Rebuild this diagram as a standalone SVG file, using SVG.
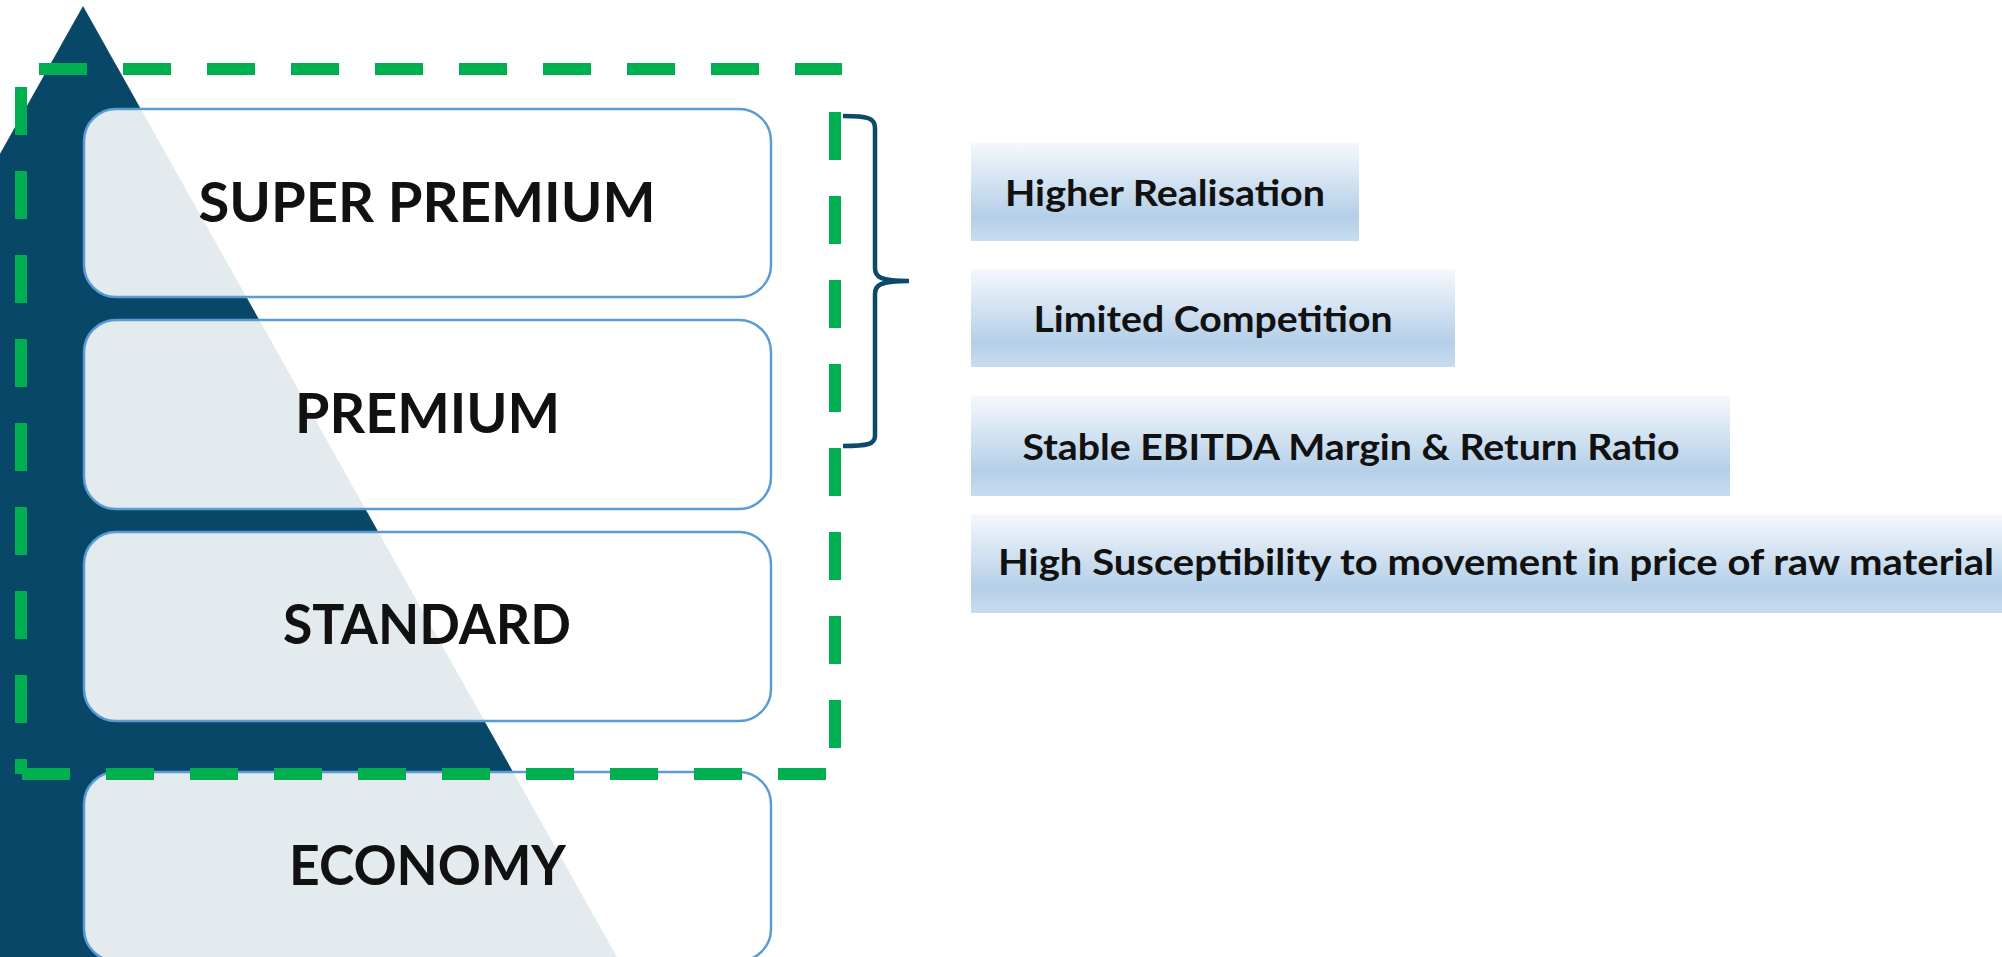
<svg xmlns="http://www.w3.org/2000/svg" width="2002" height="957" viewBox="0 0 2002 957">
<style>
.tier{fill:#ffffff;fill-opacity:0.89;stroke:#5b9bd5;stroke-width:2.5}
.tt{font-family:"Lato","Open Sans","Liberation Sans",sans-serif;font-weight:700;font-size:56px;fill:#111111}
.lb{fill:url(#g)}
.lt{font-family:"Lato","Open Sans","Liberation Sans",sans-serif;font-weight:700;font-size:37px;fill:#111111}
.gd{stroke:#00b050;stroke-width:12;stroke-dasharray:48 36;fill:none}
</style>
<defs>
<linearGradient id="g" x1="0" y1="0" x2="0" y2="1">
<stop offset="0" stop-color="#f5f8fc"/>
<stop offset="0.75" stop-color="#b4cfe8"/>
<stop offset="1" stop-color="#c8dcef"/>
</linearGradient>
</defs>
<rect width="2002" height="957" fill="#ffffff"/>
<polygon id="triangle" points="83,6 617,957 -451,957" fill="#084767"/>
<g id="tier-super-premium">
<rect class="tier" x="84" y="109" width="687" height="188" rx="32"/>
<text class="tt" x="427" y="222" text-anchor="middle" textLength="457" lengthAdjust="spacingAndGlyphs">SUPER PREMIUM</text>
</g>
<g id="tier-premium">
<rect class="tier" x="84" y="320" width="687" height="189" rx="32"/>
<text class="tt" x="427.5" y="433" text-anchor="middle" textLength="265" lengthAdjust="spacingAndGlyphs">PREMIUM</text>
</g>
<g id="tier-standard">
<rect class="tier" x="84" y="532" width="687" height="189" rx="32"/>
<text class="tt" x="427" y="644" text-anchor="middle" textLength="288" lengthAdjust="spacingAndGlyphs">STANDARD</text>
</g>
<g id="tier-economy">
<rect class="tier" x="84" y="772" width="687" height="189" rx="32"/>
<text class="tt" x="427.5" y="885" text-anchor="middle" textLength="277" lengthAdjust="spacingAndGlyphs">ECONOMY</text>
</g>
<g id="green-outline">
<line class="gd" x1="39" y1="69" x2="842" y2="69"/>
<line class="gd" x1="21" y1="87" x2="21" y2="774"/>
<line class="gd" x1="22" y1="774" x2="826" y2="774"/>
<line class="gd" x1="835" y1="112" x2="835" y2="760"/>
</g>
<g id="connectors">
<path d="M843,116 C868,116 875,118 875,128 L875,268 C875,277 880,281 909,281 C880,281 875,285 875,294 L875,436 C875,444 868,446 843,446" fill="none" stroke="#0b4a6b" stroke-width="4.5"/>
</g>
<g id="label-higher-realisation">
<rect class="lb" x="971" y="143" width="388" height="98"/>
<text class="lt" x="1165" y="206" text-anchor="middle" textLength="320" lengthAdjust="spacingAndGlyphs">Higher Realisation</text>
</g>
<g id="label-limited-competition">
<rect class="lb" x="971" y="269" width="484" height="98"/>
<text class="lt" x="1213" y="332" text-anchor="middle" textLength="359" lengthAdjust="spacingAndGlyphs">Limited Competition</text>
</g>
<g id="label-stable-ebitda">
<rect class="lb" x="971" y="396" width="759" height="100"/>
<text class="lt" x="1351" y="460" text-anchor="middle" textLength="657" lengthAdjust="spacingAndGlyphs">Stable EBITDA Margin &amp; Return Ratio</text>
</g>
<g id="label-high-susceptibility">
<rect class="lb" x="971" y="514" width="1050" height="99"/>
<text class="lt" x="1496" y="575" text-anchor="middle" textLength="996" lengthAdjust="spacingAndGlyphs">High Susceptibility to movement in price of raw material</text>
</g>
</svg>
